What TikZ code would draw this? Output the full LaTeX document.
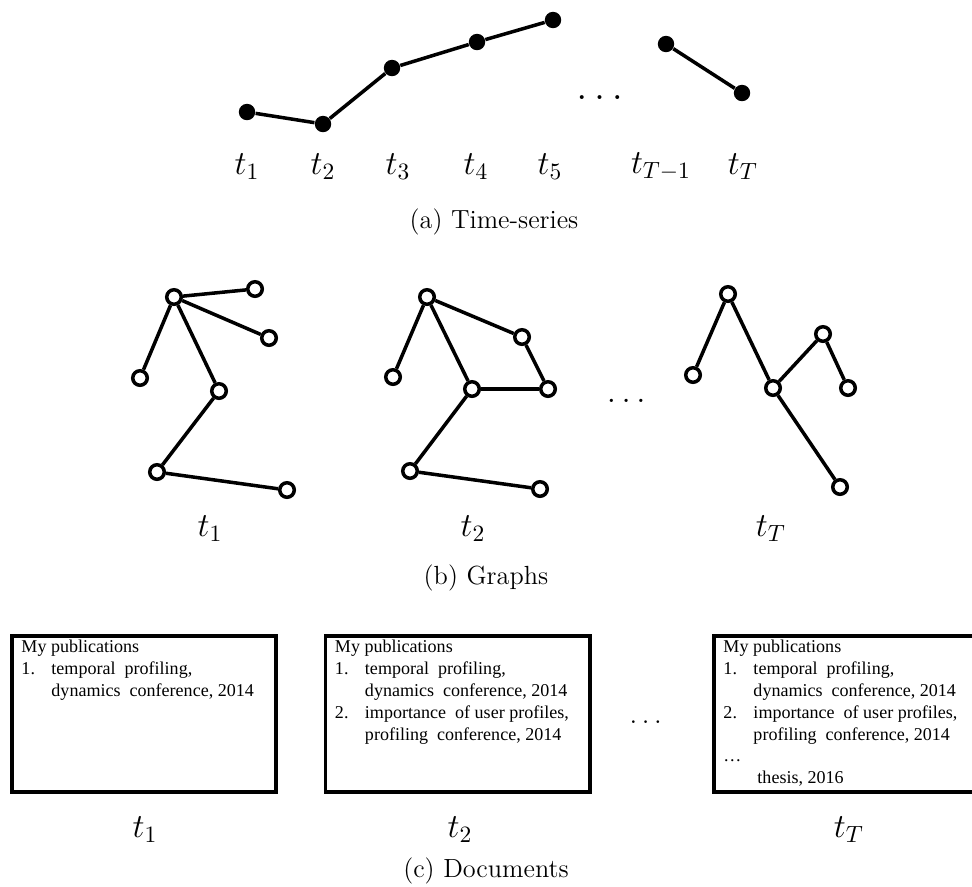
\documentclass[tikz,border=0pt]{standalone}
\usepackage{fontspec}
\usepackage{amsmath}
\newfontfamily\docfont{Liberation Serif}
\usetikzlibrary{positioning}

\begin{document}
\begin{tikzpicture}[
    x=0.015cm, y=-0.015cm,
    dot/.style={
        circle, fill=black, inner sep=0pt, minimum size=7pt
    },
    vert/.style={
        circle, draw=black, line width=1.5pt,
        inner sep=0pt, minimum size=6.2pt
    },
    edge/.style={line width=1.5pt},
    tlabel/.style={font=\Large},
    caption/.style={font=\fontsize{11.2}{13}\selectfont},
    docbox/.style={
        rectangle, draw=black, line width=1.7pt,
        minimum width=3.96cm, minimum height=2.34cm
    },
    doctext/.style={
        inner sep=0pt, align=left,
        font=\docfont\fontsize{7.7}{9.3}\selectfont
    },
]
\useasboundingbox (0,0) rectangle (972,886);

% (a) Time-series
\node[dot] (s1) at (247,112) {};
\node[dot] (s2) at (323,124) {};
\node[dot] (s3) at (392,68) {};
\node[dot] (s4) at (477,42) {};
\node[dot] (s5) at (553,20) {};
\node[dot] (sm) at (666,44) {};
\node[dot] (sT) at (742,93) {};

\draw[edge] (s1) -- (s2) -- (s3) -- (s4) -- (s5);
\draw[edge] (sm) -- (sT);

\node[font=\LARGE] (sdots) at (603,98) {$\dots$};

\node[tlabel] (ts1) at (247,167) {$t_1$};
\node[tlabel] (ts2) at (323,167) {$t_2$};
\node[tlabel] (ts3) at (398,167) {$t_3$};
\node[tlabel] (ts4) at (476,167) {$t_4$};
\node[tlabel] (ts5) at (550,167) {$t_5$};
\node[tlabel] (tsm) at (661,167) {$t_{T-1}$};
\node[tlabel] (tsT) at (743,167) {$t_T$};

\node[caption] (capa) at (494,222) {(a) Time-series};

% (b) Graphs: first graph
\node[vert] (a1) at (174,297) {};
\node[vert] (a2) at (255,289) {};
\node[vert] (a3) at (269,338) {};
\node[vert] (a4) at (140,378) {};
\node[vert] (a5) at (219,391) {};
\node[vert] (a6) at (157,472) {};
\node[vert] (a7) at (287,490) {};

\draw[edge] (a1) -- (a2);
\draw[edge] (a1) -- (a3);
\draw[edge] (a1) -- (a4);
\draw[edge] (a1) -- (a5);
\draw[edge] (a5) -- (a6);
\draw[edge] (a6) -- (a7);

% second graph
\node[vert] (b1) at (427,297) {};
\node[vert] (b2) at (522,337) {};
\node[vert] (b3) at (393,377) {};
\node[vert] (b4) at (472,389) {};
\node[vert] (b5) at (548,389) {};
\node[vert] (b6) at (410,471) {};
\node[vert] (b7) at (540,489) {};

\draw[edge] (b1) -- (b3);
\draw[edge] (b1) -- (b2);
\draw[edge] (b1) -- (b4);
\draw[edge] (b2) -- (b5);
\draw[edge] (b4) -- (b5);
\draw[edge] (b4) -- (b6);
\draw[edge] (b6) -- (b7);

% last graph
\node[vert] (c1) at (728,294) {};
\node[vert] (c2) at (693,375) {};
\node[vert] (c3) at (773,388) {};
\node[vert] (c4) at (823,334) {};
\node[vert] (c5) at (848,388) {};
\node[vert] (c6) at (840,487) {};

\draw[edge] (c1) -- (c2);
\draw[edge] (c1) -- (c3);
\draw[edge] (c3) -- (c4);
\draw[edge] (c4) -- (c5);
\draw[edge] (c3) -- (c6);

\node[font=\Large] (gdots) at (629,401) {$\dots$};

\node[tlabel] (tg1) at (210,529) {$t_1$};
\node[tlabel] (tg2) at (473,529) {$t_2$};
\node[tlabel] (tgT) at (771,529) {$t_T$};

\node[caption] (capb) at (486,578) {(b) Graphs};

% (c) Documents
\node[docbox] (doc1) at (144,714) {};
\node[docbox] (doc2) at (457.5,714) {};
\node[docbox] (doc3) at (846,714) {};

\node[doctext, below right=2.5pt and 4.7pt of doc1.north west] (txt1) {%
    My publications\\
    \makebox[12.8pt][l]{1.}temporal\ \ profiling,\\
    \hspace*{12.8pt}dynamics\ \ conference,\ 2014};
\node[doctext, below right=2.5pt and 4.7pt of doc2.north west] (txt2) {%
    My publications\\
    \makebox[12.8pt][l]{1.}temporal\ \ profiling,\\
    \hspace*{12.8pt}dynamics\ \ conference,\ 2014\\
    \makebox[12.8pt][l]{2.}importance\ \ of user profiles,\\
    \hspace*{12.8pt}profiling\ \ conference,\ 2014};
\node[doctext, below right=2.5pt and 4.7pt of doc3.north west] (txt3) {%
    My publications\\
    \makebox[12.8pt][l]{1.}temporal\ \ profiling,\\
    \hspace*{12.8pt}dynamics\ \ conference,\ 2014\\
    \makebox[12.8pt][l]{2.}importance\ \ of user profiles,\\
    \hspace*{12.8pt}profiling\ \ conference,\ 2014\\
    \dots\\
    \hspace*{14.5pt}thesis,\ 2016};

\node[font=\large] (ddots) at (648,722) {$\dots$};

\node[tlabel] (td1) at (145,830) {$t_1$};
\node[tlabel] (td2) at (460,830) {$t_2$};
\node[tlabel] (tdT) at (849,830) {$t_T$};

\node[caption] (capc) at (486,871) {(c) Documents};

\end{tikzpicture}
\end{document}
